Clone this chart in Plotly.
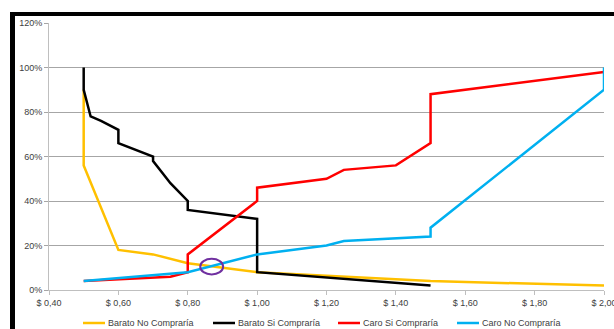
import plotly.graph_objects as go

# ---- data ----
barato_no_x = [0.50, 0.50, 0.60, 0.70, 0.80, 1.00, 1.50, 2.00]
barato_no_y = [0.90, 0.56, 0.18, 0.16, 0.12, 0.08, 0.04, 0.02]

barato_si_x = [0.50, 0.50, 0.52, 0.55, 0.60, 0.60, 0.70, 0.70, 0.74, 0.75, 0.80, 0.80, 1.00, 1.00, 1.50]
barato_si_y = [1.00, 0.90, 0.78, 0.76, 0.72, 0.66, 0.60, 0.58, 0.50, 0.48, 0.40, 0.36, 0.32, 0.08, 0.02]

caro_si_x = [0.50, 0.75, 0.80, 0.80, 1.00, 1.00, 1.20, 1.25, 1.40, 1.50, 1.50, 2.00]
caro_si_y = [0.04, 0.06, 0.08, 0.16, 0.40, 0.46, 0.50, 0.54, 0.56, 0.66, 0.88, 0.98]

caro_no_x = [0.50, 0.80, 1.00, 1.20, 1.25, 1.50, 1.50, 2.00, 2.00]
caro_no_y = [0.04, 0.08, 0.16, 0.20, 0.22, 0.24, 0.28, 0.90, 1.00]

x_tickvals = [0.40, 0.60, 0.80, 1.00, 1.20, 1.40, 1.60, 1.80, 2.00]
x_ticktext = ["$ 0,40", "$ 0,60", "$ 0,80", "$ 1,00", "$ 1,20", "$ 1,40", "$ 1,60", "$ 1,80", "$ 2,00"]
y_tickvals = [0, 0.2, 0.4, 0.6, 0.8, 1.0, 1.2]
y_ticktext = ["0%", "20%", "40%", "60%", "80%", "100%", "120%"]

# highlighted intersection (circle)
circle_center = (0.869, 0.105)
circle_size = (0.066, 0.07)

series_names = ["Barato No Compraría", "Barato Si Compraría", "Caro Si Compraría", "Caro No Compraría"]
series_x = [barato_no_x, barato_si_x, caro_si_x, caro_no_x]
series_y = [barato_no_y, barato_si_y, caro_si_y, caro_no_y]
series_colors = ["#FFC000", "#000000", "#FF0000", "#00B0F0"]

fig = go.Figure()
for name, xs, ys, col in zip(series_names, series_x, series_y, series_colors):
    fig.add_trace(go.Scatter(x=xs, y=ys, mode="lines", name=name,
                             line=dict(color=col, width=2.5)))

font = dict(family="Liberation Sans, Arial, sans-serif", size=9, color="#404040")

L, R, T, B = 49, 10, 23, 39
W, H = 614, 329
pw, ph = W - L - R, H - T - B

def px(x):
    return (x - L) / pw

def py(y):
    return (H - B - y) / ph

shapes = [
    dict(type="circle", xref="x", yref="y",
         x0=circle_center[0] - circle_size[0] / 2, x1=circle_center[0] + circle_size[0] / 2,
         y0=circle_center[1] - circle_size[1] / 2, y1=circle_center[1] + circle_size[1] / 2,
         line=dict(color="#7030A0", width=2)),
    # black frame (top and left)
    dict(type="rect", xref="paper", yref="paper", x0=px(10), x1=px(616), y0=py(16), y1=py(12),
         fillcolor="black", line=dict(width=0), layer="above"),
    dict(type="rect", xref="paper", yref="paper", x0=px(10), x1=px(15), y0=py(331), y1=py(12),
         fillcolor="black", line=dict(width=0), layer="above"),
]

# legend drawn below the plot (line sample + label)
legend_line_start = [83, 213, 338, 457]
legend_y = 323
annotations = []
for name, col, lx in zip(series_names, series_colors, legend_line_start):
    shapes.append(dict(type="line", xref="paper", yref="paper",
                       x0=px(lx), x1=px(lx + 22), y0=py(legend_y), y1=py(legend_y),
                       line=dict(color=col, width=2.5)))
    annotations.append(dict(text=name, xref="paper", yref="paper",
                            x=px(lx + 23), y=py(legend_y), xanchor="left", yanchor="middle",
                            showarrow=False, font=font))

fig.update_layout(
    width=W, height=H,
    margin=dict(l=L, r=R, t=T, b=B, autoexpand=False),
    paper_bgcolor="white", plot_bgcolor="white",
    font=font,
    showlegend=False,
    shapes=shapes,
    annotations=annotations,
    xaxis=dict(range=[0.40, 2.00], tickvals=x_tickvals, ticktext=x_ticktext,
               showgrid=False, zeroline=False, showline=True, linecolor="#BFBFBF",
               linewidth=1, ticks="outside", ticklen=4, tickcolor="#BFBFBF",
               tickfont=font, ticklabeloverflow="allow", automargin=False),
    yaxis=dict(range=[0, 1.2], tickvals=y_tickvals, ticktext=y_ticktext,
               showgrid=True, gridcolor="#A6A6A6", gridwidth=1,
               zeroline=False, showline=True, linecolor="#BFBFBF", linewidth=1,
               ticks="outside", ticklen=4, tickcolor="#A6A6A6", tickfont=font,
               automargin=False),
)

fig.write_html("out.html")
